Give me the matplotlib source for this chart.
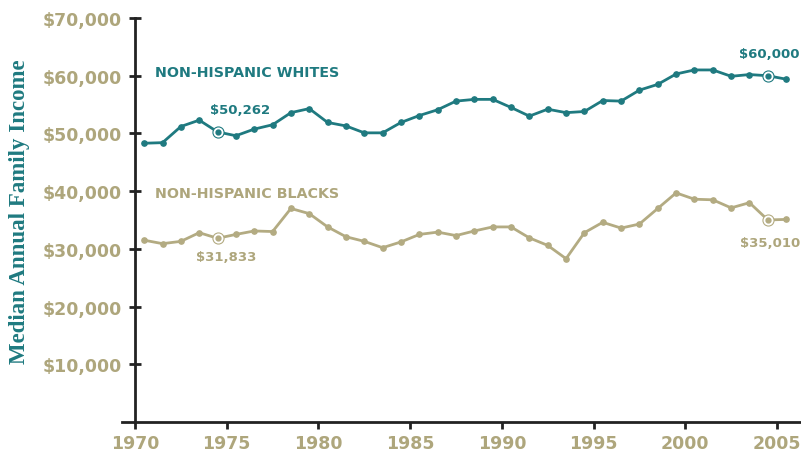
import matplotlib
matplotlib.use("Agg")
import matplotlib.pyplot as plt

years = list(range(1970, 2006))
whites = [48.3, 48.4, 51.2, 52.3, 50.262, 49.6, 50.75, 51.5, 53.6, 54.3,
          51.9, 51.3, 50.1, 50.1, 51.9, 53.1, 54.1, 55.6, 55.9, 55.9,
          54.5, 53.0, 54.2, 53.6, 53.8, 55.7, 55.6, 57.5, 58.5, 60.3,
          61.0, 61.0, 59.9, 60.2, 60.0, 59.4]
blacks = [31.5, 30.9, 31.3, 32.8, 31.833, 32.5, 33.1, 33.0, 37.0, 36.1,
          33.8, 32.1, 31.3, 30.2, 31.2, 32.5, 32.9, 32.3, 33.1, 33.8,
          33.8, 31.9, 30.6, 28.3, 32.8, 34.6, 33.6, 34.3, 37.0, 39.7,
          38.6, 38.5, 37.1, 38.0, 35.01, 35.1]
whites = [v * 1000 for v in whites]
blacks = [v * 1000 for v in blacks]
yticks = [10000, 20000, 30000, 40000, 50000, 60000, 70000]
ytick_labels = ["$10,000", "$20,000", "$30,000", "$40,000", "$50,000", "$60,000", "$70,000"]
xticks = [1970, 1975, 1980, 1985, 1990, 1995, 2000, 2005]
highlight_idx = [4, 34]
white_notes = ["$50,262", "$60,000"]
black_notes = ["$31,833", "$35,010"]

TEAL = "#1f7a80"
KHAKI = "#b3ab82"
KTEXT = "#aea67c"

fig = plt.figure(figsize=(8.01, 4.52), dpi=100)
ax = fig.add_axes([122 / 801, 29 / 452, 679 / 801, 404 / 452])
ax.set_xlim(1969.29, 2006.31)
ax.set_ylim(0, 70000)

xs = [y + 0.5 for y in years]
ax.plot(xs, whites, color=TEAL, lw=2.0, marker="o", ms=3.8, clip_on=False, zorder=3)
ax.plot(xs, blacks, color=KHAKI, lw=2.0, marker="o", ms=3.8, clip_on=False, zorder=3)

for i in highlight_idx:
    ax.plot(xs[i], whites[i], marker="o", ms=8, mfc="white", mec=TEAL, mew=0.8, zorder=4)
    ax.plot(xs[i], whites[i], marker="o", ms=3.5, color=TEAL, zorder=5)
    ax.plot(xs[i], blacks[i], marker="o", ms=8, mfc="white", mec=KHAKI, mew=0.8, zorder=4)
    ax.plot(xs[i], blacks[i], marker="o", ms=3.5, color=KHAKI, zorder=5)

lab_font = dict(family="DejaVu Sans", fontsize=9.5, fontweight="bold")
w_off = [(16, 16), (1, 16)]
b_off = [(6, -13), (2, -16)]
for k, i in enumerate(highlight_idx):
    ax.annotate(white_notes[k], (xs[i], whites[i]), xytext=w_off[k], textcoords="offset points",
                ha="center", va="center", color=TEAL, **lab_font)
    ax.annotate(black_notes[k], (xs[i], blacks[i]), xytext=b_off[k], textcoords="offset points",
                ha="center", va="center", color=KTEXT, **lab_font)

ax.text(1971.09, 60600, "NON-HISPANIC WHITES", color=TEAL, ha="left", va="center",
        family="DejaVu Sans", fontsize=10.3, fontweight="bold")
ax.text(1971.09, 39700, "NON-HISPANIC BLACKS", color=KTEXT, ha="left", va="center",
        family="DejaVu Sans", fontsize=10.3, fontweight="bold")

for s in ["top", "right"]:
    ax.spines[s].set_visible(False)
ax.spines["left"].set_position(("data", 1970))
ax.spines["left"].set_bounds(0, 70000)
ax.spines["left"].set_linewidth(2.0)
ax.spines["bottom"].set_linewidth(2.0)
ax.spines["left"].set_color("#222222")
ax.spines["bottom"].set_color("#222222")

ax.set_yticks(yticks)
ax.set_yticklabels(ytick_labels)
ax.set_xticks(xticks)
ax.set_xticklabels([str(x) for x in xticks])
ax.tick_params(axis="y", direction="inout", length=9, width=2, color="#222222",
               labelcolor=KTEXT, labelsize=12.5, pad=5)
ax.tick_params(axis="x", direction="out", length=5, width=2, color="#222222",
               labelcolor=KTEXT, labelsize=12.5, pad=4)
for lab in ax.get_yticklabels() + ax.get_xticklabels():
    lab.set_fontweight("bold")
    lab.set_family("DejaVu Sans")

fig.text(20 / 801, 1 - 212 / 452, "Median Annual Family Income", rotation=90,
         ha="center", va="center", color=TEAL, family="Liberation Serif",
         fontweight="bold", fontsize=16.5)

fig.savefig("out.png", dpi=100)
